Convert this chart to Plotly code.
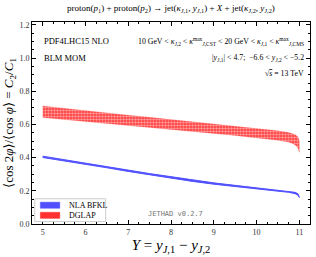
import plotly.graph_objects as go

Y = [5.0, 5.5, 6.0, 6.5, 7.0, 7.5, 8.0, 8.5, 9.0, 9.5, 10.0, 10.5, 10.75, 10.9, 10.97, 11.0]
bfkl_up = [0.409, 0.389, 0.368, 0.347, 0.325, 0.304, 0.284, 0.265, 0.248, 0.233, 0.219, 0.206, 0.199, 0.191, 0.182, 0.168]
bfkl_lo = [0.401, 0.381, 0.360, 0.339, 0.317, 0.296, 0.276, 0.257, 0.240, 0.225, 0.211, 0.198, 0.191, 0.183, 0.174, 0.160]
dglap_up = [0.712, 0.697, 0.682, 0.669, 0.656, 0.643, 0.630, 0.617, 0.605, 0.592, 0.578, 0.562, 0.552, 0.540, 0.525, 0.500]
dglap_lo = [0.642, 0.630, 0.618, 0.606, 0.594, 0.582, 0.570, 0.558, 0.546, 0.534, 0.521, 0.505, 0.494, 0.478, 0.458, 0.432]
series_names = ["NLA BFKL", "DGLAP"]

SERIF = "Liberation Serif, DejaVu Serif, serif"
BLUE = "#5050ff"
RED = "#ff3030"

fig = go.Figure()
fig.add_trace(go.Scatter(
    x=Y + Y[::-1], y=bfkl_up + bfkl_lo[::-1], fill="toself", mode="lines",
    line=dict(color=BLUE, width=1.0), fillcolor=BLUE,
    name=series_names[0], showlegend=False))
fig.add_trace(go.Scatter(
    x=Y + Y[::-1], y=dglap_up + dglap_lo[::-1], fill="toself", mode="lines",
    line=dict(color="rgba(255,60,60,0.4)", width=0.5), fillcolor=RED,
    fillpattern=dict(shape=".", fgcolor="white", bgcolor=RED, size=3, solidity=0.55),
    name=series_names[1], showlegend=False))

axis_common = dict(
    showline=True, linecolor="black", linewidth=1, mirror="allticks",
    ticks="inside", ticklen=4, tickwidth=1, tickcolor="black",
    showgrid=False, zeroline=False,
    tickfont=dict(family=SERIF, size=8, color="#333"),
)
fig.update_xaxes(range=[4.75, 11.25], dtick=1, tick0=5,
                 minor=dict(dtick=0.25, ticks="inside", ticklen=2, tickcolor="black"),
                 **axis_common)
fig.update_yaxes(range=[0, 1.218], dtick=0.2, tick0=0, tickformat=".1f",
                 minor=dict(dtick=0.05, ticks="inside", ticklen=2, tickcolor="black"),
                 **axis_common)

ann = []
ann.append(dict(text="proton(<i>p</i><sub>1</sub>) + proton(<i>p</i><sub>2</sub>) → jet(<i>κ</i><sub><i>J</i>,1</sub>, <i>y</i><sub><i>J</i>,1</sub>) + <i>X</i> + jet(<i>κ</i><sub><i>J</i>,2</sub>, <i>y</i><sub><i>J</i>,2</sub>)",
                xref="paper", yref="paper", x=0.5, y=1.03, xanchor="center", yanchor="bottom",
                showarrow=False, font=dict(family=SERIF, size=9, color="black")))
ann.append(dict(text="PDF4LHC15 NLO", xref="paper", yref="paper", x=0.035, y=0.905,
                xanchor="left", yanchor="middle", showarrow=False,
                font=dict(family=SERIF, size=8.5, color="black")))
ann.append(dict(text="BLM MOM", xref="paper", yref="paper", x=0.035, y=0.82,
                xanchor="left", yanchor="middle", showarrow=False,
                font=dict(family=SERIF, size=8.5, color="black")))
ann.append(dict(text="10 GeV < <i>κ</i><sub><i>J</i>,2</sub> < <i>κ</i><sup>max</sup><sub><i>J</i>,CST</sub> < 20 GeV < <i>κ</i><sub><i>J</i>,1</sub> < <i>κ</i><sup>max</sup><sub><i>J</i>,CMS</sub>",
                xref="paper", yref="paper", x=0.985, y=0.905, xanchor="right", yanchor="middle",
                showarrow=False, font=dict(family=SERIF, size=7.8, color="black")))
ann.append(dict(text="|<i>y</i><sub><i>J</i>,1</sub>| < 4.7;  −6.6 < <i>y</i><sub><i>J</i>,2</sub> < −5.2",
                xref="paper", yref="paper", x=0.985, y=0.82, xanchor="right", yanchor="middle",
                showarrow=False, font=dict(family=SERIF, size=7.8, color="black")))
ann.append(dict(text="√<span style='text-decoration:overline'><i>s</i></span> = 13 TeV",
                xref="paper", yref="paper", x=0.985, y=0.745, xanchor="right", yanchor="middle",
                showarrow=False, font=dict(family=SERIF, size=7.8, color="black")))
ann.append(dict(text="JETHAD v0.2.7", xref="paper", yref="paper", x=0.515, y=0.05,
                xanchor="center", yanchor="middle", showarrow=False,
                font=dict(family="DejaVu Sans Mono, monospace", size=7, color="#777")))

# custom compact legend
shapes = [
    dict(type="rect", xref="paper", yref="paper", x0=0.01, x1=0.265, y0=0.012, y1=0.125,
         fillcolor="white", line=dict(color="#cccccc", width=1), layer="above"),
    dict(type="rect", xref="paper", yref="paper", x0=0.03, x1=0.10, y0=0.078, y1=0.108,
         fillcolor=BLUE, line=dict(color=BLUE, width=0.5), layer="above"),
    dict(type="rect", xref="paper", yref="paper", x0=0.03, x1=0.10, y0=0.028, y1=0.058,
         fillcolor=RED, line=dict(color=RED, width=0.5), layer="above"),
]
ann.append(dict(text=series_names[0], xref="paper", yref="paper", x=0.125, y=0.093,
                xanchor="left", yanchor="middle", showarrow=False,
                font=dict(family=SERIF, size=8, color="black")))
ann.append(dict(text=series_names[1], xref="paper", yref="paper", x=0.125, y=0.043,
                xanchor="left", yanchor="middle", showarrow=False,
                font=dict(family=SERIF, size=8, color="black")))

fig.update_layout(
    width=316, height=257,
    margin=dict(l=32, r=6, t=22, b=33),
    plot_bgcolor="white", paper_bgcolor="white",
    annotations=ann, shapes=shapes,
    xaxis_title=dict(text="<i>Y</i> = <i>y</i><sub><i>J</i>,1</sub> − <i>y</i><sub><i>J</i>,2</sub>",
                     font=dict(family=SERIF, size=15, color="black"), standoff=2),
    yaxis_title=dict(text="⟨cos 2<i>φ</i>⟩/⟨cos <i>φ</i>⟩ = <i>C</i><sub>2</sub>/<i>C</i><sub>1</sub>",
                     font=dict(family=SERIF, size=13, color="black"), standoff=2),
    showlegend=False,
)

fig.write_html("out.html", config={"displayModeBar": False},
               post_script="document.body.style.margin='0';document.body.style.overflow='hidden';")
